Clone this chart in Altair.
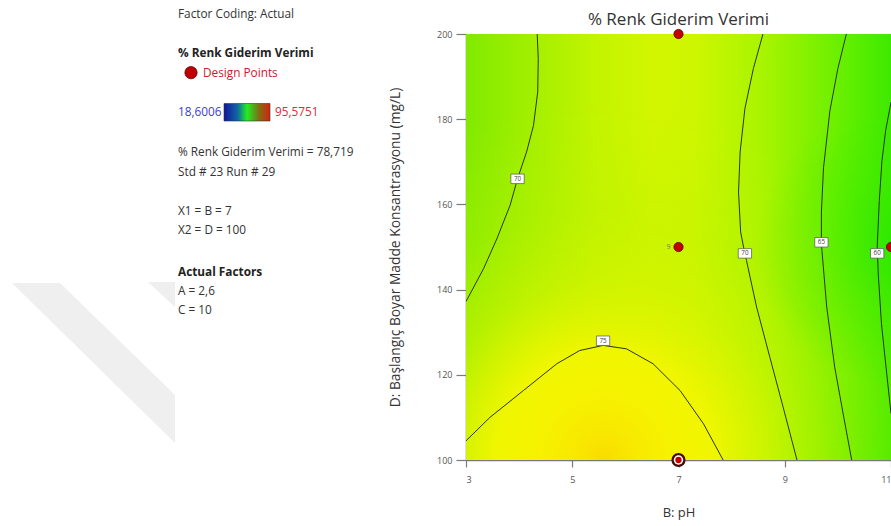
import altair as alt
import pandas as pd

FONT = "Open Sans"

# ---------------- data ----------------
chart_title = "% Renk Giderim Verimi"
x_title = "B: pH"
y_title = "D: Başlangıç Boyar Madde Konsantrasyonu (mg/L)"
x_ticks = [3, 5, 7, 9, 11]
y_ticks = [100, 120, 140, 160, 180, 200]
ph_domain = [3, 11]
d_domain = [100, 200]

# contour lines (pH, D)
c70_left_ph = [4.34, 4.36, 4.35, 4.27, 4.14, 3.97, 3.83, 3.58, 3.33, 3.0]
c70_left_d = [200, 194.2, 186.4, 178.5, 172.3, 166.0, 159.8, 151.9, 144.9, 137.2]

c70_right_ph = [8.59, 8.41, 8.25, 8.16, 8.13, 8.17, 8.25, 8.28, 8.47, 8.72, 8.97, 9.23]
c70_right_d = [200, 191.9, 182.5, 172.3, 162.9, 153.5, 148.4, 146.8, 135.9, 124.1, 112.4, 100]

c65_ph = [10.16, 10.0, 9.85, 9.73, 9.69, 9.69, 9.70, 9.79, 9.94, 10.10, 10.26]
c65_d = [200, 191.9, 182.0, 168.6, 158.2, 151.1, 149.2, 135.9, 121.8, 110.8, 100]

c60_ph = [11.0, 10.9, 10.83, 10.78, 10.74, 10.76, 10.82, 10.92, 11.0]
c60_d = [184.0, 177.4, 170.3, 160.9, 150.0, 143.7, 132.0, 120.2, 110.9]

c75_ph = [3.0, 3.45, 4.08, 4.71, 5.14, 5.58, 6.02, 6.52, 7.03, 7.47, 7.84]
c75_d = [104.5, 110.0, 116.3, 122.6, 125.7, 126.9, 126.1, 122.6, 116.3, 108.5, 100]

# contour labels
label_ph = [3.97, 8.25, 9.69, 10.74, 5.58]
label_d = [166.0, 148.5, 151.1, 148.5, 128.0]
label_txt = ["70", "70", "65", "60", "75"]

# design points
design_ph = [7, 7, 11]
design_d = [200, 150, 150]
selected_ph = [7]
selected_d = [100]
replicate_ph = [7]
replicate_d = [150]
replicate_txt = ["9"]

# left information panel
panel_factor = "Factor Coding: Actual"
panel_resp = "% Renk Giderim Verimi"
panel_dp = "Design Points"
panel_min = "18,6006"
panel_max = "95,5751"
panel_value = "% Renk Giderim Verimi = 78,719"
panel_run = "Std # 23 Run # 29"
panel_x1 = "X1 = B = 7"
panel_x2 = "X2 = D = 100"
panel_af = "Actual Factors"
panel_a = "A = 2,6"
panel_c = "C = 10"

# ---------------- build tables ----------------
rows = []
for name, phs, ds in [("70a", c70_left_ph, c70_left_d), ("70b", c70_right_ph, c70_right_d),
                      ("65", c65_ph, c65_d), ("60", c60_ph, c60_d), ("75", c75_ph, c75_d)]:
    for i, (p, d) in enumerate(zip(phs, ds)):
        rows.append({"contour": name, "i": i, "ph": p, "d": d})
contours = pd.DataFrame(rows)
labels = pd.DataFrame({"ph": label_ph, "d": label_d, "txt": label_txt})
design = pd.DataFrame({"ph": design_ph, "d": design_d})
selected = pd.DataFrame({"ph": selected_ph, "d": selected_d})
replicate = pd.DataFrame({"ph": replicate_ph, "d": replicate_d, "txt": replicate_txt})
area = pd.DataFrame({"ph": [ph_domain[0]], "ph2": [ph_domain[1]], "d": [d_domain[0]], "d2": [d_domain[1]]})

AX = "#7a7a7a"
x_axis = alt.Axis(values=x_ticks, title=x_title, grid=False, domainColor=AX, domainWidth=1.5,
                  tickColor=AX, tickWidth=1.2, tickSize=7, labelFontSize=9, labelColor="#555",
                  labelPadding=8, titleFontSize=13, titleFontWeight="normal", titleColor="#333",
                  titlePadding=22, titleFont=FONT, labelFont=FONT)
y_axis = alt.Axis(values=y_ticks, title=y_title, grid=False, domainColor=AX, domainWidth=1.5,
                  tickColor=AX, tickWidth=1.2, tickSize=10, labelFontSize=9, labelColor="#555",
                  labelPadding=4, titleFontSize=13.8, titleFontWeight="normal", titleColor="#333",
                  titlePadding=34, titleFont=FONT, labelFont=FONT)
xs = alt.Scale(domain=ph_domain, nice=False, zero=False)
ys = alt.Scale(domain=d_domain, nice=False, zero=False)


def X(f="ph"):
    return alt.X(f"{f}:Q", scale=xs, axis=x_axis)


def Y(f="d"):
    return alt.Y(f"{f}:Q", scale=ys, axis=y_axis)


base_grad = {
    "gradient": "linear", "x1": 0, "x2": 1, "y1": 0, "y2": 0,
    "stops": [
        {"offset": 0.0, "color": "#80ea00"},
        {"offset": 0.17, "color": "#a6f000"},
        {"offset": 0.31, "color": "#c4f400"},
        {"offset": 0.44, "color": "#d2f600"},
        {"offset": 0.54, "color": "#cef600"},
        {"offset": 0.70, "color": "#a8f400"},
        {"offset": 0.86, "color": "#70f000"},
        {"offset": 1.0, "color": "#3eea00"},
    ],
}
blob_grad = {
    "gradient": "radial", "x1": 0.325, "y1": 1, "r1": 0, "x2": 0.325, "y2": 1, "r2": 0.845,
    "stops": [
        {"offset": 0.0, "color": "rgba(249,220,0,1)"},
        {"offset": 0.08, "color": "rgba(248,232,0,1)"},
        {"offset": 0.18, "color": "rgba(246,242,0,1)"},
        {"offset": 0.3, "color": "rgba(240,246,0,1)"},
        {"offset": 0.37, "color": "rgba(228,245,0,0.9)"},
        {"offset": 0.5, "color": "rgba(210,244,0,0.6)"},
        {"offset": 0.7, "color": "rgba(190,242,0,0.3)"},
        {"offset": 1.0, "color": "rgba(190,242,0,0)"},
    ],
}
green_grad = {
    "gradient": "radial", "x1": 1.0, "y1": 0.5, "r1": 0, "x2": 1.0, "y2": 0.5, "r2": 0.32,
    "stops": [
        {"offset": 0.0, "color": "rgba(36,232,0,0.6)"},
        {"offset": 0.5, "color": "rgba(48,234,0,0.3)"},
        {"offset": 1.0, "color": "rgba(48,234,0,0)"},
    ],
}

bg = alt.Chart(area).mark_rect(fill=base_grad, opacity=1, clip=True).encode(x=X("ph"), x2="ph2", y=Y("d"), y2="d2")
blob = alt.Chart(area).mark_rect(fill=blob_grad, opacity=1, clip=True).encode(x=X("ph"), x2="ph2", y=Y("d"), y2="d2")
gpocket = alt.Chart(area).mark_rect(fill=green_grad, opacity=1, clip=True).encode(x=X("ph"), x2="ph2", y=Y("d"), y2="d2")

lines = alt.Chart(contours).mark_line(color="#2a3418", strokeWidth=1, clip=True).encode(
    x=X(), y=Y(), detail="contour:N", order="i:Q")

boxes = alt.Chart(labels).mark_point(shape="M-1.4,-1L1.4,-1L1.4,1L-1.4,1Z", size=90, filled=True,
                                     fill="white", stroke="#555", strokeWidth=0.7, opacity=1).encode(x=X(), y=Y())
box_txt = alt.Chart(labels).mark_text(fontSize=6.3, color="#444", font=FONT).encode(x=X(), y=Y(), text="txt:N")

pts = alt.Chart(design).mark_point(shape="circle", size=85, filled=True, fill="#c40000",
                                   stroke="#5a0000", strokeWidth=0.8, opacity=1).encode(x=X(), y=Y())
sel1 = alt.Chart(selected).mark_point(shape="circle", size=200, filled=True, fill="#4a0808", opacity=1).encode(x=X(), y=Y())
sel2 = alt.Chart(selected).mark_point(shape="circle", size=90, filled=True, fill="white", opacity=1).encode(x=X(), y=Y())
sel3 = alt.Chart(selected).mark_point(shape="circle", size=40, filled=True, fill="#c40000", opacity=1).encode(x=X(), y=Y())
rep = alt.Chart(replicate).mark_text(fontSize=7, color="#777", dx=-10, font=FONT).encode(x=X(), y=Y(), text="txt:N")


def ptxt(s, x, y, size=11.8, weight="normal", color="#333", align="left"):
    return alt.Chart(pd.DataFrame({"t": [s]})).mark_text(
        align=align, baseline="middle", fontSize=size, fontWeight=weight, color=color, font=FONT
    ).encode(x=alt.value(x), y=alt.value(y), text="t:N")


title = ptxt(chart_title, 212.5, -14, size=17, color="#333", align="center")

colorbar = alt.Chart(pd.DataFrame({"k": [0]})).mark_rect(
    fill={"gradient": "linear", "x1": 0, "x2": 1, "y1": 0, "y2": 0,
          "stops": [{"offset": 0, "color": "#1414a0"}, {"offset": 0.3, "color": "#106aa0"},
                    {"offset": 0.5, "color": "#22ee22"}, {"offset": 0.75, "color": "#7a7414"},
                    {"offset": 1, "color": "#d82010"}]},
    stroke="#333", strokeWidth=0.6, opacity=1
).encode(x=alt.value(-242), x2=alt.value(-196), y=alt.value(69.5), y2=alt.value(87))

legend_dot = alt.Chart(pd.DataFrame({"k": [0]})).mark_point(
    shape="circle", size=150, filled=True, fill="#c00000", stroke="#600000", strokeWidth=0.8, opacity=1
).encode(x=alt.value(-275), y=alt.value(38.7))

wm1 = alt.Chart(pd.DataFrame({"k": [0]})).mark_point(
    shape="M0,0L48,0L163,112L163,160Z", size=4, filled=True, fill="#efefef", opacity=1, strokeWidth=0
).encode(x=alt.value(-454), y=alt.value(249))
wm2 = alt.Chart(pd.DataFrame({"k": [0]})).mark_point(
    shape="M0,0L27,0L27,25Z", size=4, filled=True, fill="#efefef", opacity=1, strokeWidth=0
).encode(x=alt.value(-318), y=alt.value(248))

panel = [
    ptxt(panel_factor, -288, -20.5),
    ptxt(panel_resp, -288, 19.3, weight="bold", color="#222"),
    ptxt(panel_dp, -263, 38.7, color="#c8202a"),
    ptxt(panel_min, -288, 77.7, color="#3a3ae0"),
    ptxt(panel_max, -191, 77.7, color="#e02a3a"),
    ptxt(panel_value, -288, 117.7),
    ptxt(panel_run, -288, 137.7),
    ptxt(panel_x1, -288, 177),
    ptxt(panel_x2, -288, 196),
    ptxt(panel_af, -288, 237.7, weight="bold", color="#222"),
    ptxt(panel_a, -288, 257),
    ptxt(panel_c, -288, 276),
]

chart = alt.layer(
    wm1, wm2, bg, blob, gpocket, lines, boxes, box_txt, pts, sel1, sel2, sel3, rep,
    title, colorbar, legend_dot, *panel
).properties(
    width=425, height=426,
    autosize=alt.AutoSizeParams(type="none"),
    padding={"left": 466, "top": 34, "right": 0, "bottom": 66},
).configure_view(stroke=AX, strokeWidth=1.5).configure(background="white")

chart.save("out.html", embed_options={"renderer": "svg", "actions": False})
